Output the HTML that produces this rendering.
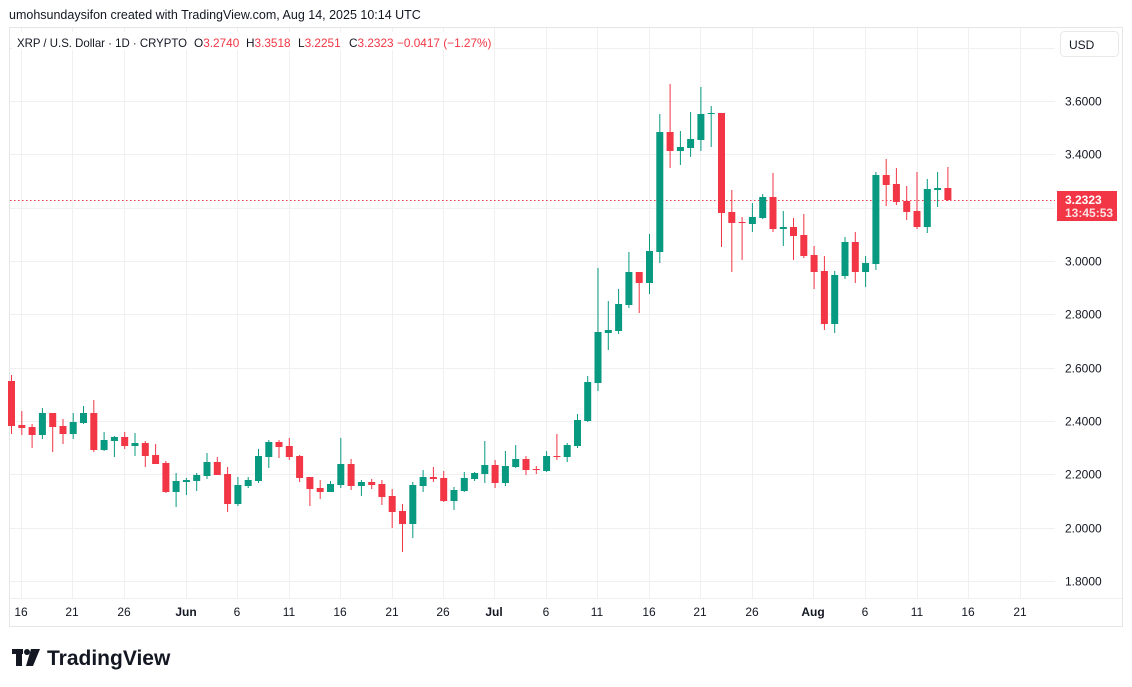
<!DOCTYPE html>
<html><head><meta charset="utf-8"><style>
html,body{margin:0;padding:0;background:#fff;}
svg{display:block;font-family:"Liberation Sans",sans-serif;}
</style></head><body>
<svg width="1132" height="687" viewBox="0 0 1132 687" xmlns="http://www.w3.org/2000/svg">
<rect width="1132" height="687" fill="#fff"/>
<text x="9" y="19" font-size="12.5" fill="#131722">umohsundaysifon created with TradingView.com, Aug 14, 2025 10:14 UTC</text>
<rect x="9.5" y="27.5" width="1113" height="599" fill="none" stroke="#e6e6e6"/>
<g stroke="#f0f0f0" stroke-width="1">
<line x1="10" x2="1055" y1="101.5" y2="101.5"/><line x1="10" x2="1055" y1="154.5" y2="154.5"/>
<line x1="10" x2="1055" y1="208.5" y2="208.5"/><line x1="10" x2="1055" y1="261.5" y2="261.5"/>
<line x1="10" x2="1055" y1="314.5" y2="314.5"/><line x1="10" x2="1055" y1="368.5" y2="368.5"/>
<line x1="10" x2="1055" y1="421.5" y2="421.5"/><line x1="10" x2="1055" y1="474.5" y2="474.5"/>
<line x1="10" x2="1055" y1="528.5" y2="528.5"/><line x1="10" x2="1055" y1="581.5" y2="581.5"/>
<line x1="10" x2="1055" y1="48.5" y2="48.5"/>
<g>
<line x1="21.5" x2="21.5" y1="28" y2="598"/><line x1="72.5" x2="72.5" y1="28" y2="598"/><line x1="124.5" x2="124.5" y1="28" y2="598"/>
<line x1="186.5" x2="186.5" y1="28" y2="598"/><line x1="237.5" x2="237.5" y1="28" y2="598"/><line x1="289.5" x2="289.5" y1="28" y2="598"/>
<line x1="340.5" x2="340.5" y1="28" y2="598"/><line x1="392.5" x2="392.5" y1="28" y2="598"/><line x1="443.5" x2="443.5" y1="28" y2="598"/>
<line x1="494.5" x2="494.5" y1="28" y2="598"/><line x1="546.5" x2="546.5" y1="28" y2="598"/><line x1="597.5" x2="597.5" y1="28" y2="598"/>
<line x1="649.5" x2="649.5" y1="28" y2="598"/><line x1="700.5" x2="700.5" y1="28" y2="598"/><line x1="752.5" x2="752.5" y1="28" y2="598"/>
<line x1="813.5" x2="813.5" y1="28" y2="598"/><line x1="865.5" x2="865.5" y1="28" y2="598"/><line x1="917.5" x2="917.5" y1="28" y2="598"/>
<line x1="968.5" x2="968.5" y1="28" y2="598"/><line x1="1020.5" x2="1020.5" y1="28" y2="598"/>
</g>
<line x1="10" x2="1122" y1="598.5" y2="598.5"/>
</g>
<rect x="12" y="32" width="480" height="18" fill="#fff"/>
<g font-size="11.8" fill="#131722">
<text x="17" y="47" textLength="170" lengthAdjust="spacingAndGlyphs">XRP / U.S. Dollar · 1D · CRYPTO</text>
<text x="194" y="47">O<tspan fill="#f23645">3.2740</tspan></text>
<text x="246" y="47">H<tspan fill="#f23645">3.3518</tspan></text>
<text x="298" y="47">L<tspan fill="#f23645">3.2251</tspan></text>
<text x="349" y="47">C<tspan fill="#f23645">3.2323</tspan></text>
<text x="397" y="47" fill="#f23645">−0.0417 (−1.27%)</text>
</g>
<rect x="1060.5" y="31.5" width="58" height="25" rx="4" fill="#fff" stroke="#e8e8e8"/>
<text x="1069" y="49" font-size="12" fill="#131722">USD</text>
<g font-size="12" fill="#131722">
<text x="1065" y="105.5">3.6000</text><text x="1065" y="158.5">3.4000</text>
<text x="1065" y="265.5">3.0000</text><text x="1065" y="318.5">2.8000</text><text x="1065" y="372.5">2.6000</text>
<text x="1065" y="425.5">2.4000</text><text x="1065" y="478.5">2.2000</text><text x="1065" y="532.5">2.0000</text>
<text x="1065" y="585.5">1.8000</text>
</g>
<line x1="10" x2="1055" y1="200.5" y2="200.5" stroke="#f23645" stroke-dasharray="1.5,2.5"/>
<rect x="1057" y="191" width="60" height="30" fill="#f23645"/>
<text x="1065" y="204" font-size="12" font-weight="bold" fill="#fff">3.2323</text>
<text x="1065" y="217" font-size="12" font-weight="bold" fill="#fde0e3">13:45:53</text>
<g font-size="12" fill="#131722" text-anchor="middle">
<text x="21" y="616">16</text><text x="72" y="616">21</text><text x="124" y="616">26</text>
<text x="186" y="616" font-weight="bold">Jun</text><text x="237" y="616">6</text><text x="289" y="616">11</text>
<text x="340" y="616">16</text><text x="392" y="616">21</text><text x="443" y="616">26</text>
<text x="494" y="616" font-weight="bold">Jul</text><text x="546" y="616">6</text><text x="597" y="616">11</text>
<text x="649" y="616">16</text><text x="700" y="616">21</text><text x="752" y="616">26</text>
<text x="813" y="616" font-weight="bold">Aug</text><text x="865" y="616">6</text><text x="917" y="616">11</text>
<text x="968" y="616">16</text><text x="1020" y="616">21</text>
</g>
<g id="c">
<g fill="#f23645"><rect x="11" y="375" width="1" height="59"/><rect x="8" y="381" width="7" height="45"/></g>
<g fill="#f23645"><rect x="21.3" y="411" width="1" height="24"/><rect x="18.3" y="425" width="7" height="3"/></g>
<g fill="#f23645"><rect x="31.6" y="424" width="1" height="24"/><rect x="28.6" y="427" width="7" height="8"/></g>
<g fill="#089981"><rect x="41.9" y="408" width="1" height="31"/><rect x="38.9" y="413" width="7" height="22"/></g>
<g fill="#f23645"><rect x="52.2" y="413" width="1" height="39"/><rect x="49.2" y="413" width="7" height="14"/></g>
<g fill="#f23645"><rect x="62.5" y="419" width="1" height="25"/><rect x="59.5" y="426" width="7" height="8"/></g>
<g fill="#089981"><rect x="72.7" y="413" width="1" height="26"/><rect x="69.7" y="422" width="7" height="12"/></g>
<g fill="#089981"><rect x="83" y="406" width="1" height="18"/><rect x="80" y="413" width="7" height="10"/></g>
<g fill="#f23645"><rect x="93.3" y="400" width="1" height="52"/><rect x="90.3" y="413" width="7" height="37"/></g>
<g fill="#089981"><rect x="103.6" y="432" width="1" height="19"/><rect x="100.6" y="440" width="7" height="10"/></g>
<g fill="#089981"><rect x="113.9" y="436" width="1" height="21"/><rect x="110.9" y="437" width="7" height="4"/></g>
<g fill="#f23645"><rect x="124.2" y="432" width="1" height="17"/><rect x="121.2" y="437" width="7" height="9"/></g>
<g fill="#089981"><rect x="134.5" y="433" width="1" height="23"/><rect x="131.5" y="443" width="7" height="3"/></g>
<g fill="#f23645"><rect x="144.8" y="441" width="1" height="26"/><rect x="141.8" y="443" width="7" height="13"/></g>
<g fill="#f23645"><rect x="155.1" y="444" width="1" height="20"/><rect x="152.1" y="455" width="7" height="9"/></g>
<g fill="#f23645"><rect x="165.4" y="461" width="1" height="32"/><rect x="162.4" y="463" width="7" height="29"/></g>
<g fill="#089981"><rect x="175.6" y="473" width="1" height="34"/><rect x="172.6" y="481" width="7" height="11"/></g>
<g fill="#089981"><rect x="185.9" y="478" width="1" height="17"/><rect x="182.9" y="480" width="7" height="2"/></g>
<g fill="#089981"><rect x="196.2" y="473" width="1" height="18"/><rect x="193.2" y="475" width="7" height="6"/></g>
<g fill="#089981"><rect x="206.5" y="453" width="1" height="26"/><rect x="203.5" y="462" width="7" height="14"/></g>
<g fill="#f23645"><rect x="216.8" y="457" width="1" height="18"/><rect x="213.8" y="462" width="7" height="13"/></g>
<g fill="#f23645"><rect x="227.1" y="467" width="1" height="45"/><rect x="224.1" y="474" width="7" height="30"/></g>
<g fill="#089981"><rect x="237.4" y="477" width="1" height="29"/><rect x="234.4" y="485" width="7" height="19"/></g>
<g fill="#089981"><rect x="247.7" y="477" width="1" height="11"/><rect x="244.7" y="480" width="7" height="6"/></g>
<g fill="#089981"><rect x="258" y="449" width="1" height="34"/><rect x="255" y="456" width="7" height="25"/></g>
<g fill="#089981"><rect x="268.3" y="440" width="1" height="28"/><rect x="265.3" y="442" width="7" height="15"/></g>
<g fill="#f23645"><rect x="278.5" y="440" width="1" height="18"/><rect x="275.5" y="442" width="7" height="5"/></g>
<g fill="#f23645"><rect x="288.8" y="438" width="1" height="22"/><rect x="285.8" y="446" width="7" height="11"/></g>
<g fill="#f23645"><rect x="299.1" y="455" width="1" height="27"/><rect x="296.1" y="456" width="7" height="22"/></g>
<g fill="#f23645"><rect x="309.4" y="477" width="1" height="29"/><rect x="306.4" y="477" width="7" height="12"/></g>
<g fill="#f23645"><rect x="319.7" y="480" width="1" height="19"/><rect x="316.7" y="488" width="7" height="4"/></g>
<g fill="#089981"><rect x="330" y="481" width="1" height="11"/><rect x="327" y="484" width="7" height="8"/></g>
<g fill="#089981"><rect x="340.3" y="438" width="1" height="50"/><rect x="337.3" y="464" width="7" height="21"/></g>
<g fill="#f23645"><rect x="350.6" y="459" width="1" height="31"/><rect x="347.6" y="464" width="7" height="22"/></g>
<g fill="#089981"><rect x="360.9" y="480" width="1" height="16"/><rect x="357.9" y="482" width="7" height="4"/></g>
<g fill="#f23645"><rect x="371.2" y="479" width="1" height="10"/><rect x="368.2" y="482" width="7" height="3"/></g>
<g fill="#f23645"><rect x="381.4" y="480" width="1" height="25"/><rect x="378.4" y="484" width="7" height="13"/></g>
<g fill="#f23645"><rect x="391.7" y="489" width="1" height="39"/><rect x="388.7" y="496" width="7" height="16"/></g>
<g fill="#f23645"><rect x="402" y="504" width="1" height="48"/><rect x="399" y="511" width="7" height="13"/></g>
<g fill="#089981"><rect x="412.3" y="482" width="1" height="56"/><rect x="409.3" y="485" width="7" height="39"/></g>
<g fill="#089981"><rect x="422.6" y="470" width="1" height="22"/><rect x="419.6" y="477" width="7" height="9"/></g>
<g fill="#f23645"><rect x="432.9" y="467" width="1" height="15"/><rect x="429.9" y="477" width="7" height="2"/></g>
<g fill="#f23645"><rect x="443.2" y="471" width="1" height="31"/><rect x="440.2" y="478" width="7" height="23"/></g>
<g fill="#089981"><rect x="453.5" y="487" width="1" height="23"/><rect x="450.5" y="490" width="7" height="11"/></g>
<g fill="#089981"><rect x="463.8" y="472" width="1" height="20"/><rect x="460.8" y="478" width="7" height="13"/></g>
<g fill="#089981"><rect x="474.1" y="472" width="1" height="9"/><rect x="471.1" y="473" width="7" height="6"/></g>
<g fill="#089981"><rect x="484.3" y="441" width="1" height="42"/><rect x="481.3" y="465" width="7" height="9"/></g>
<g fill="#f23645"><rect x="494.6" y="460" width="1" height="28"/><rect x="491.6" y="465" width="7" height="18"/></g>
<g fill="#089981"><rect x="504.9" y="451" width="1" height="35"/><rect x="501.9" y="466" width="7" height="17"/></g>
<g fill="#089981"><rect x="515.2" y="445" width="1" height="23"/><rect x="512.2" y="459" width="7" height="8"/></g>
<g fill="#f23645"><rect x="525.5" y="456" width="1" height="19"/><rect x="522.5" y="459" width="7" height="11"/></g>
<g fill="#f23645"><rect x="535.8" y="466" width="1" height="8"/><rect x="532.8" y="469" width="7" height="1"/></g>
<g fill="#089981"><rect x="546.1" y="451" width="1" height="21"/><rect x="543.1" y="456" width="7" height="15"/></g>
<g fill="#f23645"><rect x="556.4" y="434" width="1" height="26"/><rect x="553.4" y="456" width="7" height="1"/></g>
<g fill="#089981"><rect x="566.7" y="443" width="1" height="19"/><rect x="563.7" y="445" width="7" height="12"/></g>
<g fill="#089981"><rect x="577" y="414" width="1" height="34"/><rect x="574" y="420" width="7" height="26"/></g>
<g fill="#089981"><rect x="587.2" y="376" width="1" height="46"/><rect x="584.2" y="382" width="7" height="39"/></g>
<g fill="#089981"><rect x="597.5" y="268" width="1" height="123"/><rect x="594.5" y="332" width="7" height="51"/></g>
<g fill="#089981"><rect x="607.8" y="301" width="1" height="49"/><rect x="604.8" y="330" width="7" height="3"/></g>
<g fill="#089981"><rect x="618.1" y="289" width="1" height="45"/><rect x="615.1" y="304" width="7" height="27"/></g>
<g fill="#089981"><rect x="628.4" y="252" width="1" height="56"/><rect x="625.4" y="272" width="7" height="33"/></g>
<g fill="#f23645"><rect x="638.7" y="272" width="1" height="41"/><rect x="635.7" y="272" width="7" height="11"/></g>
<g fill="#089981"><rect x="649" y="234" width="1" height="60"/><rect x="646" y="251" width="7" height="32"/></g>
<g fill="#089981"><rect x="659.3" y="114" width="1" height="149"/><rect x="656.3" y="132" width="7" height="120"/></g>
<g fill="#f23645"><rect x="669.6" y="84" width="1" height="84"/><rect x="666.6" y="132" width="7" height="19"/></g>
<g fill="#089981"><rect x="679.9" y="131" width="1" height="34"/><rect x="676.9" y="147" width="7" height="4"/></g>
<g fill="#089981"><rect x="690.1" y="112" width="1" height="45"/><rect x="687.1" y="139" width="7" height="9"/></g>
<g fill="#089981"><rect x="700.4" y="87" width="1" height="64"/><rect x="697.4" y="114" width="7" height="26"/></g>
<g fill="#089981"><rect x="710.7" y="106" width="1" height="41"/><rect x="707.7" y="113" width="7" height="1"/></g>
<g fill="#f23645"><rect x="721" y="113" width="1" height="134"/><rect x="718" y="113" width="7" height="100"/></g>
<g fill="#f23645"><rect x="731.3" y="190" width="1" height="82"/><rect x="728.3" y="212" width="7" height="11"/></g>
<g fill="#f23645"><rect x="741.6" y="217" width="1" height="43"/><rect x="738.6" y="222" width="7" height="1"/></g>
<g fill="#089981"><rect x="751.9" y="203" width="1" height="29"/><rect x="748.9" y="217" width="7" height="7"/></g>
<g fill="#089981"><rect x="762.2" y="194" width="1" height="25"/><rect x="759.2" y="197" width="7" height="21"/></g>
<g fill="#f23645"><rect x="772.5" y="173" width="1" height="59"/><rect x="769.5" y="197" width="7" height="32"/></g>
<g fill="#089981"><rect x="782.8" y="211" width="1" height="35"/><rect x="779.8" y="227" width="7" height="2"/></g>
<g fill="#f23645"><rect x="793" y="218" width="1" height="42"/><rect x="790" y="227" width="7" height="9"/></g>
<g fill="#f23645"><rect x="803.3" y="214" width="1" height="44"/><rect x="800.3" y="235" width="7" height="21"/></g>
<g fill="#f23645"><rect x="813.6" y="246" width="1" height="43"/><rect x="810.6" y="255" width="7" height="17"/></g>
<g fill="#f23645"><rect x="823.9" y="256" width="1" height="74"/><rect x="820.9" y="271" width="7" height="53"/></g>
<g fill="#089981"><rect x="834.2" y="271" width="1" height="62"/><rect x="831.2" y="275" width="7" height="49"/></g>
<g fill="#089981"><rect x="844.5" y="237" width="1" height="42"/><rect x="841.5" y="242" width="7" height="34"/></g>
<g fill="#f23645"><rect x="854.8" y="232" width="1" height="51"/><rect x="851.8" y="242" width="7" height="30"/></g>
<g fill="#089981"><rect x="865.1" y="256" width="1" height="31"/><rect x="862.1" y="263" width="7" height="9"/></g>
<g fill="#089981"><rect x="875.4" y="172" width="1" height="98"/><rect x="872.4" y="175" width="7" height="89"/></g>
<g fill="#f23645"><rect x="885.7" y="159" width="1" height="47"/><rect x="882.7" y="175" width="7" height="10"/></g>
<g fill="#f23645"><rect x="895.9" y="168" width="1" height="37"/><rect x="892.9" y="184" width="7" height="18"/></g>
<g fill="#f23645"><rect x="906.2" y="186" width="1" height="34"/><rect x="903.2" y="201" width="7" height="11"/></g>
<g fill="#f23645"><rect x="916.5" y="172" width="1" height="57"/><rect x="913.5" y="211" width="7" height="16"/></g>
<g fill="#089981"><rect x="926.8" y="179" width="1" height="54"/><rect x="923.8" y="189" width="7" height="38"/></g>
<g fill="#089981"><rect x="937.1" y="172" width="1" height="35"/><rect x="934.1" y="188" width="7" height="2"/></g>
<g fill="#f23645"><rect x="947.4" y="167" width="1" height="34"/><rect x="944.4" y="188" width="7" height="12"/></g>
</g>
<g fill="#131722">
<rect x="12" y="649" width="11" height="5"/><rect x="16" y="649" width="6" height="17"/>
<circle cx="27" cy="652" r="3"/>
<polygon points="31,649 40,649 33,666 26,666"/>
</g>
<text x="47" y="665" font-size="21" font-weight="bold" fill="#131722">TradingView</text>
</svg>
</body></html>
